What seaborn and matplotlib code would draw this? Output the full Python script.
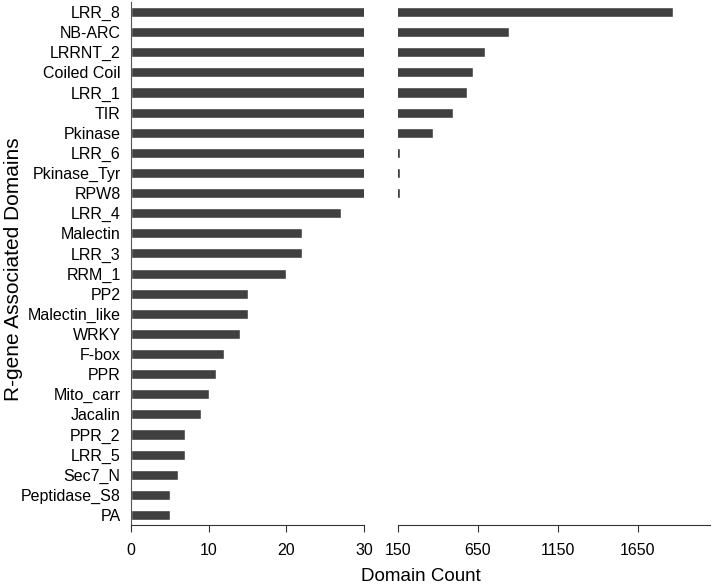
import pandas as pd
import numpy as np
import matplotlib.pyplot as plt
import seaborn as sns

domains = ['LRR_8', 'NB-ARC', 'LRRNT_2', 'Coiled Coil', 'LRR_1', 'TIR', 'Pkinase',
           'LRR_6', 'Pkinase_Tyr', 'RPW8', 'LRR_4', 'Malectin', 'LRR_3', 'RRM_1',
           'PP2', 'Malectin_like', 'WRKY', 'F-box', 'PPR', 'Mito_carr', 'Jacalin',
           'PPR_2', 'LRR_5', 'Sec7_N', 'Peptidase_S8', 'PA']
counts = [1867, 841, 691, 617, 579, 492, 368,
          165, 165, 165, 27, 22, 22, 20,
          15, 15, 14, 12, 11, 10, 9,
          7, 7, 6, 5, 5]
left_ticks = [0, 10, 20, 30]
right_ticks = [150, 650, 1150, 1650]

df = pd.DataFrame({'domain': domains, 'count': counts})

sns.set_style('white')
plt.rcParams['font.family'] = ['Liberation Sans', 'DejaVu Sans']
plt.rcParams['text.color'] = 'black'
plt.rcParams['xtick.color'] = 'black'
plt.rcParams['ytick.color'] = 'black'
plt.rcParams['axes.labelcolor'] = 'black'

fig = plt.figure(figsize=(7.14, 5.87), dpi=100)
ax1 = fig.add_axes([0.1835, 0.1056, 0.3263, 0.891])
ax2 = fig.add_axes([0.5574, 0.1056, 0.437, 0.891], sharey=ax1)

bar_color = '#404040'
for ax in (ax1, ax2):
    sns.barplot(data=df, x='count', y='domain', orient='h', color=bar_color,
                width=0.5, saturation=1, ax=ax)
    ax.set_xlabel('')
    ax.set_ylabel('')
    ax.spines['top'].set_visible(False)
    ax.spines['right'].set_visible(False)
    ax.spines['bottom'].set_color('#333333')
    ax.tick_params(axis='x', bottom=True, direction='out', length=5,
                   color='#333333', labelsize=11.5, pad=8)

ax1.set_xlim(0, 30)
ax1.set_xticks(left_ticks)
ax1.spines['left'].set_color('#555555')
ax1.tick_params(axis='y', left=False, labelsize=11.5, pad=4)
ax1.set_ylim(25.5, -0.5)
ax1.set_ylabel('R-gene Associated Domains', fontsize=15)
ax1.yaxis.set_label_coords(-0.465, 0.49)

ax2.set_xlim(150, 2100)
ax2.set_xticks(right_ticks)
ax2.spines['left'].set_visible(False)
ax2.tick_params(axis='y', left=False, labelleft=False)

fig.text(0.59, 0.003, 'Domain Count', ha='center', va='bottom', fontsize=13.5)

fig.savefig('out.png', dpi=100)
